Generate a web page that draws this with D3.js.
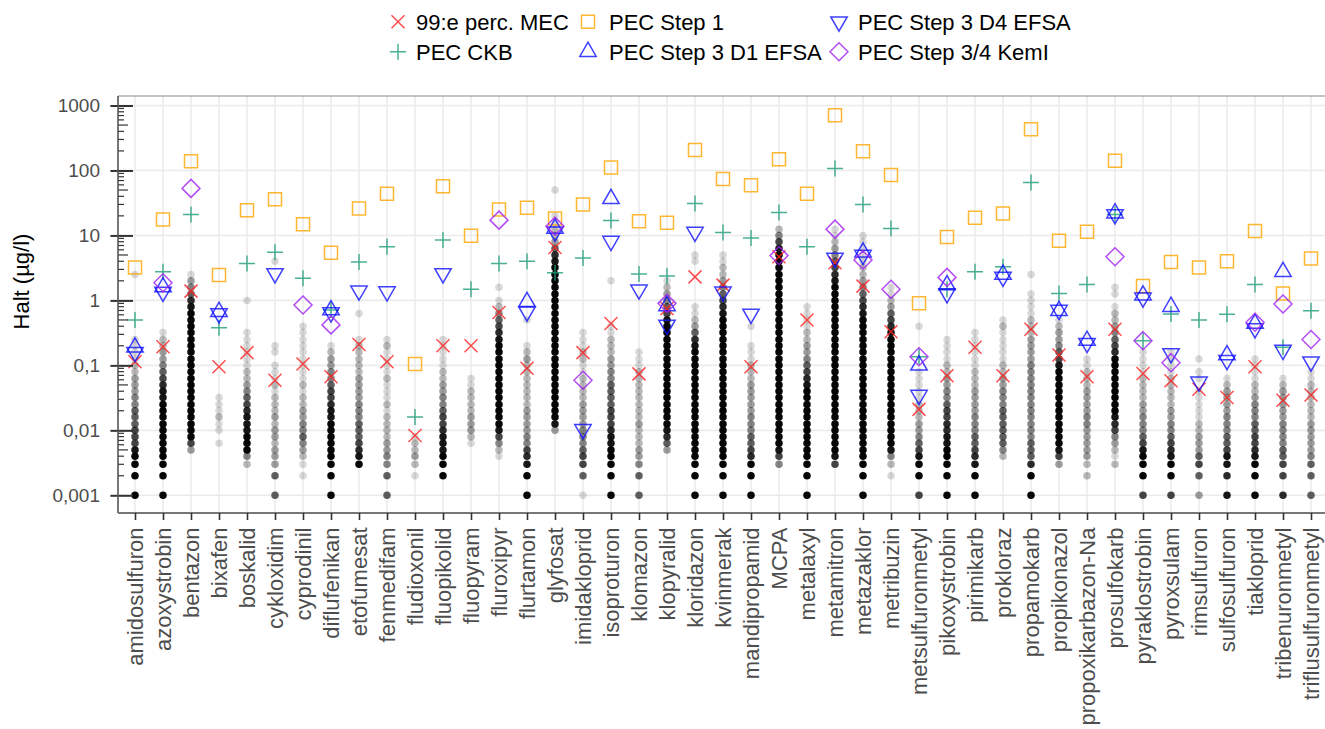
<!DOCTYPE html>
<html>
<head>
<meta charset="UTF-8">
<title>Halt per substans</title>
<script src="https://cdnjs.cloudflare.com/ajax/libs/d3/7.8.5/d3.min.js"></script>
<style>
  body { margin: 0; background: #fff; }
  text { font-family: "Liberation Sans", Arial, sans-serif; }
</style>
</head>
<body>
<script>
// substances on the x axis
const categories = ["amidosulfuron", "azoxystrobin", "bentazon", "bixafen", "boskalid", "cykloxidim",
  "cyprodinil", "diflufenikan", "etofumesat", "fenmedifam", "fludioxonil", "fluopikolid", "fluopyram",
  "fluroxipyr", "flurtamon", "glyfosat", "imidakloprid", "isoproturon", "klomazon", "klopyralid",
  "kloridazon", "kvinmerak", "mandipropamid", "MCPA", "metalaxyl", "metamitron", "metazaklor",
  "metribuzin", "metsulfuronmetyl", "pikoxystrobin", "pirimikarb", "prokloraz", "propamokarb",
  "propikonazol", "propoxikarbazon-Na", "prosulfokarb", "pyraklostrobin", "pyroxsulam", "rimsulfuron",
  "sulfosulfuron", "tiakloprid", "tribenuronmetyl", "triflusulfuronmetyl"];

// 99:e percentil MEC
const mec99 = [0.114, 0.194, 1.39, 0.095, 0.157, 0.059, 0.105, 0.067, 0.21, 0.114, 0.0083, 0.2, 0.2,
  0.65, 0.09, 6.5, 0.157, 0.44, 0.074, 0.75, 2.3, 1.72, 0.095, 4.7, 0.5, 3.8, 1.66, 0.33, 0.021, 0.069,
  0.19, 0.069, 0.36, 0.144, 0.067, 0.36, 0.075, 0.058, 0.043, 0.032, 0.095, 0.029, 0.035];
// PEC CKB
const pecCKB = [0.5, 2.76, 21, 0.38, 3.7, 5.5, 2.2, 0.71, 3.9, 6.7, 0.016, 8.5, 1.49, 3.7, 4.0, 2.67,
  4.5, 17, 2.54, 2.37, 31, 11.1, 9.1, 22.6, 6.7, 107, 30, 12.8, 0.136, 1.48, 2.76, 3.3, 65, 1.28, 1.76,
  21, 0.24, 0.62, 0.5, 0.61, 1.76, 0.19, 0.69];
// PEC Step 1
const pecStep1 = [3.2, 17.6, 139, 2.45, 24.5, 36, 14.8, 5.4, 26, 44, 0.105, 57, 9.9, 25, 26.7, 18.3,
  30, 111, 16.6, 15.7, 206, 74, 59, 149, 44, 710, 198, 85, 0.9, 9.5, 18.7, 21.8, 432, 8.3, 11.4, 141,
  1.66, 3.9, 3.2, 4.0, 11.7, 1.28, 4.4];
// PEC Step 3 D1 EFSA
const pecD1 = [0.19, 1.6, null, 0.67, null, null, null, 0.71, null, null, null, null, null, null, 0.95,
  12.8, null, 36.6, null, 0.82, null, null, null, null, null, null, 5.5, null, 0.10, 1.72, null, 2.5,
  null, 0.69, 0.24, 22, 1.2, 0.8, null, 0.144, 0.44, 2.76, null];
// PEC Step 3 D4 EFSA
const pecD4 = [0.16, 1.35, null, 0.63, null, 2.6, null, 0.65, 1.41, 1.37, null, 2.6, null, null, 0.67,
  11.4, 0.0104, 8.2, 1.46, 0.42, 11.3, 1.36, 0.62, null, null, 4.5, 5.0, null, 0.035, 1.28, null, 2.3,
  null, 0.71, 0.22, 21, 1.1, 0.153, 0.056, 0.12, 0.37, 0.172, 0.114];
// PEC Step 3/4 KemI
const pecKemI = [null, 1.87, 53, null, null, null, 0.85, 0.42, null, null, null, null, null, 17.2, null,
  13.9, 0.059, null, null, 0.9, null, null, null, 4.9, null, 12.5, 4.2, 1.48, 0.136, 2.26, null, null,
  null, null, null, 4.7, 0.24, 0.11, null, null, 0.46, 0.88, 0.25];

// measured concentrations: value levels and, per substance, how many samples sit at each level
const levels = [0.001, 0.00125, 0.0016, 0.002, 0.0025, 0.003, 0.004, 0.005, 0.0063, 0.008,
  0.01, 0.0125, 0.016, 0.02, 0.025, 0.032, 0.04, 0.05, 0.063, 0.08,
  0.1, 0.125, 0.16, 0.2, 0.25, 0.32, 0.4, 0.5, 0.63, 0.8,
  1, 1.25, 1.6, 2, 2.5, 3.2, 4, 5, 6.3, 8,
  10, 12.5, 16, 20, 25, 32, 40, 50, 63];
// one digit per level (0 = none ... 9 = many samples)
const sampleCodes = [
  "9009099866 6555443332 2111100000 00001",
  "9009099999 9999988765 433221",
  "0000000369 9999999999 9999999998 75431",
  "0000000010 112111",
  "0000024999 8887654322 1111110000 1",
  "5005033323 3232221211 1011000000 0000001",
  "0001012345 4433221211 1111111",
  "9009099999 9988766544 3321",
  "0000098765 5544433332 222210001",
  "5005044332 2221211121 11121",
  "0001023221",
  "0009099888 7665443322 11111",
  "0000000012 333222211",
  "0000001246 8999999999 9999876542 101",
  "9009087644 3333222222 23210001",
  "0000000000 3899999999 9999999999 9999998753 22110001",
  "1005066544 4333322221 122111",
  "9009099988 7666555544 3322211000 0001",
  "5005043322 2322222222 111",
  "0000000357 8999999999 9999999865 4321",
  "9009099999 9999999999 9998753211 00000011",
  "9009099999 9999999999 9999999987 65432211",
  "9009097655 4443333322 2111001",
  "0000046899 9999999999 9999999999 9999999986 42",
  "9009099999 9999999876 5433221111",
  "0000068999 9999999999 9999999999 9998765432 11",
  "9009099999 9999999999 9999999987 65432211111",
  "0001024899 9999999999 9999987653 211",
  "6009098654 3322211111 0000001",
  "9009099988 7766544332 21111",
  "9009087655 4443333222 111111",
  "0000002455 5555444332 21111121",
  "9009075554 4444444444 4333322211 11001",
  "0000036899 9999999999 86543321",
  "0002023333 3443333222 11",
  "0000021234 6789999999 9976543221 011",
  "6009099865 4443322221 111",
  "6009098765 4433222221 111",
  "3005065333 2211111011 01",
  "8007088655 444333321",
  "9009098766 5544432211 11",
  "7006065544 443333321",
  "5005054333 3322222211"
];
const codeCount = [0, 1, 2, 3, 4, 6, 8, 11, 15, 24];

const yTicks = [0.001, 0.01, 0.1, 1, 10, 100, 1000];
const yTickLabels = ["0,001", "0,01", "0,1", "1", "10", "100", "1000"];

const width = 1325, height = 729;
const panel = {left: 118, right: 1325, top: 96, bottom: 513};

const svg = d3.select("body").append("svg")
  .attr("width", width)
  .attr("height", height);

const x = d3.scalePoint()
  .domain(categories)
  .range([135, 1311]);

const y = d3.scaleLog()
  .domain([0.001, 1000])
  .range([495.3, 105.5]);

// grid
svg.append("g").selectAll("line")
  .data(yTicks).enter().append("line")
  .attr("x1", panel.left).attr("x2", panel.right)
  .attr("y1", d => y(d)).attr("y2", d => y(d))
  .attr("stroke", "#ebebeb").attr("stroke-width", 1.6);

svg.append("g").selectAll("line")
  .data(categories).enter().append("line")
  .attr("x1", d => x(d)).attr("x2", d => x(d))
  .attr("y1", panel.top).attr("y2", panel.bottom)
  .attr("stroke", "#ebebeb").attr("stroke-width", 1.6);

// samples
const samples = [];
sampleCodes.forEach((code, i) => {
  code.replace(/ /g, "").split("").forEach((c, k) => {
    const n = codeCount[+c];
    if (n > 0) samples.push({cat: categories[i], value: levels[k], n: n});
  });
});

svg.append("g").selectAll("circle")
  .data(samples).enter().append("circle")
  .attr("cx", d => x(d.cat))
  .attr("cy", d => y(d.value))
  .attr("r", 3.75)
  .attr("fill", "#000")
  .attr("fill-opacity", d => 1 - Math.pow(0.85, d.n));

// marker shapes
function shape(type) {
  switch (type) {
    case "times": return "M-6.5,-6.5L6.5,6.5M-6.5,6.5L6.5,-6.5";
    case "plus": return "M-8,0L8,0M0,-8L0,8";
    case "square": return "M-6.5,-6.5H6.5V6.5H-6.5Z";
    case "up": return "M0,-9.5L8.2,4.7L-8.2,4.7Z";
    case "down": return "M0,9.5L8.2,-4.7L-8.2,-4.7Z";
    case "diamond": return "M0,-9L9,0L0,9L-9,0Z";
  }
}

const series = [
  {name: "99:e perc. MEC", values: mec99, type: "times", color: "#ff2020"},
  {name: "PEC CKB", values: pecCKB, type: "plus", color: "#1b9e77"},
  {name: "PEC Step 1", values: pecStep1, type: "square", color: "#ffa500"},
  {name: "PEC Step 3 D1 EFSA", values: pecD1, type: "up", color: "#1010ff"},
  {name: "PEC Step 3 D4 EFSA", values: pecD4, type: "down", color: "#1010ff"},
  {name: "PEC Step 3/4 KemI", values: pecKemI, type: "diamond", color: "#a020f0"}
];

series.forEach(s => {
  svg.append("g").selectAll("path")
    .data(s.values.map((v, i) => ({cat: categories[i], v: v})).filter(d => d.v != null))
    .enter().append("path")
    .attr("transform", d => `translate(${x(d.cat)},${y(d.v)})`)
    .attr("d", shape(s.type))
    .attr("fill", "none")
    .attr("stroke", s.color)
    .attr("stroke-opacity", 0.8)
    .attr("stroke-width", 1.5);
});

// panel border
svg.append("line")
  .attr("x1", panel.left).attr("x2", panel.right)
  .attr("y1", panel.top).attr("y2", panel.top)
  .attr("stroke", "#8a8a8a").attr("stroke-width", 1.2);

// y axis
const yAxis = d3.axisLeft(y)
  .tickValues(yTicks)
  .tickFormat((d, i) => yTickLabels[i])
  .tickSize(7.6)
  .tickPadding(10.4);

const gy = svg.append("g")
  .attr("transform", `translate(${panel.left},0)`)
  .call(yAxis);
gy.select(".domain").remove();
gy.selectAll(".tick line")
  .attr("x1", 15).attr("x2", -7.6)
  .attr("stroke", "#333").attr("stroke-width", 2);
gy.selectAll(".tick text")
  .attr("fill", "#4d4d4d")
  .style("font-size", "19px")
  .style("font-family", "'Liberation Sans', Arial, sans-serif");

const minor = [];
yTicks.slice(0, -1).forEach(t => {
  for (let m = 2; m <= 9; m++) minor.push(t * m);
});
svg.append("g").selectAll("line")
  .data(minor).enter().append("line")
  .attr("x1", panel.left)
  .attr("x2", d => panel.left + (Math.round(d / Math.pow(10, Math.floor(Math.log10(d) + 1e-9))) === 5 ? 10 : 6))
  .attr("y1", d => y(d)).attr("y2", d => y(d))
  .attr("stroke", "#333").attr("stroke-width", 1.2);

svg.append("line")
  .attr("x1", panel.left).attr("x2", panel.left)
  .attr("y1", panel.top).attr("y2", panel.bottom)
  .attr("stroke", "#555").attr("stroke-width", 1.6);

// x axis
const xAxis = d3.axisBottom(x).tickSize(7).tickSizeOuter(0);
const gx = svg.append("g")
  .attr("transform", `translate(0,${panel.bottom})`)
  .call(xAxis);
gx.select(".domain")
  .attr("d", `M${panel.left},0H${panel.right}`)
  .attr("stroke", "#777").attr("stroke-width", 2.2);
gx.selectAll(".tick line").attr("stroke", "#333").attr("stroke-width", 1.6);
gx.selectAll(".tick text")
  .attr("transform", "rotate(-90)")
  .attr("x", -14.5)
  .attr("y", 0)
  .attr("dy", "0.35em")
  .attr("fill", "#4d4d4d")
  .style("text-anchor", "end")
  .style("font-size", "22px")
  .style("font-family", "'Liberation Sans', Arial, sans-serif");

// y title
svg.append("text")
  .attr("transform", "translate(29.3,281.5) rotate(-90)")
  .attr("text-anchor", "middle")
  .style("font-size", "22px")
  .text("Halt (µg/l)");

// legend
const legendPos = [[398, 21.7], [398, 51.7], [588, 21.7], [588, 51.7], [839, 21.7], [839, 51.7]];
const legendTextX = [416, 416, 609, 609, 858, 858];
const legendOrder = [0, 1, 2, 3, 4, 5];
const lg = svg.append("g");
legendOrder.forEach((si, j) => {
  const s = series[si];
  lg.append("path")
    .attr("transform", `translate(${legendPos[j][0]},${legendPos[j][1]})`)
    .attr("d", shape(s.type))
    .attr("fill", "none")
    .attr("stroke", s.color)
    .attr("stroke-opacity", 0.8)
    .attr("stroke-width", 1.5);
  lg.append("text")
    .attr("x", legendTextX[j])
    .attr("y", legendPos[j][1] + 8)
    .style("font-size", "22px")
    .text(s.name);
});
</script>
</body>
</html>
